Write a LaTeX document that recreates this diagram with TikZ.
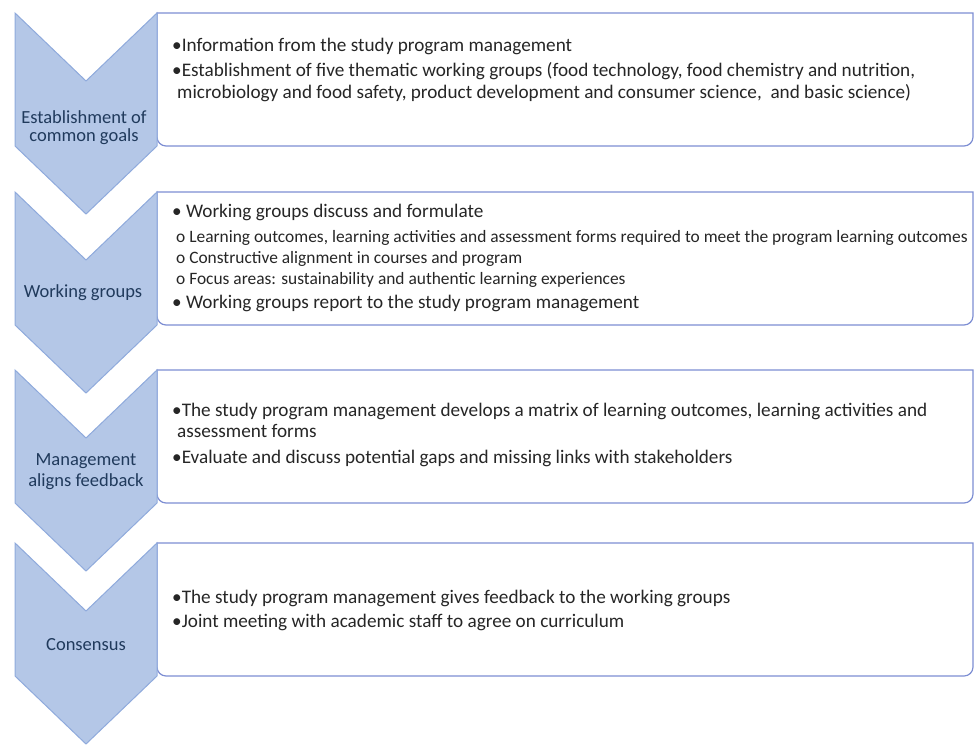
\documentclass[tikz,border=0pt]{standalone}
\usepackage{fontspec}
\setmainfont{Carlito}
\usepackage{tikz}
\usetikzlibrary{positioning}
\definecolor{chevfill}{HTML}{B4C7E7}
\definecolor{chevdraw}{HTML}{8FAADC}
\definecolor{chevtext}{HTML}{203A5C}
\definecolor{boxline}{HTML}{7D8ED3}
\definecolor{itemtext}{HTML}{262626}

\begin{document}
\begin{tikzpicture}[
    x=1pt, y=-1pt,
    chevron/.style   = {fill=chevfill, draw=chevdraw, line width=1pt},
    stepframe/.style = {draw=boxline, line width=1.2pt, fill=white},
    steplabel/.style = {anchor=base, inner sep=0pt, text=chevtext,
                        font=\fontsize{18.5}{20}\selectfont},
    item/.style      = {anchor=base west, inner sep=0pt, text=itemtext,
                        font=\fontsize{19.2}{22}\selectfont},
    subitem/.style   = {item, font=\fontsize{17.4}{20}\selectfont},
]
\useasboundingbox (0,0) rectangle (974,745);

%% ── Frames and chevrons ──────────────────────────────────────────────────────
\foreach \t in {13,192,370,543} {
  \draw[stepframe] (157,\t) -- (973,\t) [rounded corners=9pt]
        -- (973,\t+133) -- (157,\t+133) [sharp corners] -- cycle;
  \draw[chevron] (15,\t) -- (86,\t+68) -- (157,\t) -- (157,\t+133)
        -- (86,\t+201) -- (15,\t+133) -- cycle;
}

%% ── Step labels ──────────────────────────────────────────────────────────────
\node[steplabel] (lab1a) at (84,123) {Establishment of};
\node[steplabel] (lab1b) at (84,141) {common goals};
\node[steplabel] (lab2)  at (83,297) {Working groups};
\node[steplabel] (lab3a) at (86,465) {Management};
\node[steplabel] (lab3b) at (86,486) {aligns feedback};
\node[steplabel] (lab4)  at (86,650) {Consensus};

%% ── Common goals ─────────────────────────────────────────────────────────────
\node[item] (g1) at (172,51) {•Information from the study program management};
\node[item] (g2) at (172,76) {•Establishment of five thematic working groups (food technology, food chemistry and nutrition,};
\node[item] (g3) at (177,98) {microbiology and food safety, product development and consumer science,\ \ and basic science)};

%% ── Working groups ───────────────────────────────────────────────────────────
\node[item]    (w1) at (172,217) {•\ Working groups discuss and formulate};
\node[subitem] (w2) at (176,242) {o\ Learning outcomes, learning activities and assessment forms required to meet the program learning outcomes};
\node[subitem] (w3) at (176,263) {o\ Constructive alignment in courses and program};
\node[subitem] (w4) at (176,284) {o\ Focus areas: sustainability and authentic learning experiences};
\node[item]    (w5) at (172,308) {•\ Working groups report to the study program management};

%% ── Management aligns feedback ───────────────────────────────────────────────
\node[item] (m1) at (172,416) {•The study program management develops a matrix of learning outcomes, learning activities and};
\node[item] (m2) at (177,437) {assessment forms};
\node[item] (m3) at (172,463) {•Evaluate and discuss potential gaps and missing links with stakeholders};

%% ── Consensus ────────────────────────────────────────────────────────────────
\node[item] (c1) at (172,603) {•The study program management gives feedback to the working groups};
\node[item] (c2) at (172,627) {•Joint meeting with academic staff to agree on curriculum};

\end{tikzpicture}
\end{document}
